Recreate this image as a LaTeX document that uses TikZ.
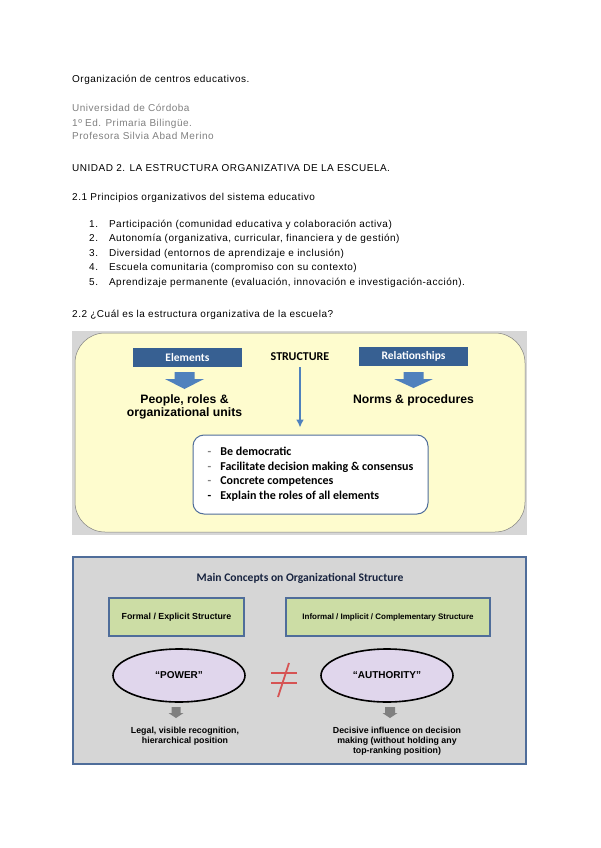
\documentclass[tikz,border=0pt]{standalone}
\usepackage{fontspec}
\setmainfont{Liberation Sans}
\newfontfamily\BodyFont[LetterSpace=5.0]{Liberation Sans}
\newfontfamily\CalibriFont{Carlito}
\usetikzlibrary{shapes.geometric}
\usetikzlibrary{arrows.meta}
\usetikzlibrary{positioning}
\definecolor{TextGray}{RGB}{128,128,128}
\definecolor{FrameGray}{RGB}{214,214,214}
\definecolor{PaleYellow}{RGB}{254,252,206}
\definecolor{ElementsBlue}{RGB}{55,96,146}
\definecolor{ArrowBlue}{RGB}{79,129,189}
\definecolor{BoxBorder}{RGB}{79,109,154}
\definecolor{PaleGreen}{RGB}{204,221,165}
\definecolor{Lavender}{RGB}{224,214,236}
\definecolor{ArrowGray}{RGB}{128,128,128}
\definecolor{NeqRed}{RGB}{214,84,84}
\definecolor{TitleNavy}{RGB}{24,36,64}
\newcommand{\DownBlockArrow}[7]{
	\fill[#7] (#1-#3,#2) -- (#1+#3,#2) -- (#1+#3,#2+#5) -- (#1+#4,#2+#5) -- (#1,#2+#5+#6) -- (#1-#4,#2+#5) -- (#1-#3,#2+#5) -- cycle;
}

\begin{document}
\begin{tikzpicture}[x=1pt, y=-1pt, >=Latex,
	bodytext/.style={anchor=base west, inner sep=0pt, font=\BodyFont\fontsize{10}{14.6}\selectfont},
	darkbox/.style={rectangle, fill=ElementsBlue, text=white, inner sep=0pt, minimum width=109pt, minimum height=19pt, font=\CalibriFont\bfseries\fontsize{11.5}{13}\selectfont},
	bigtext/.style={anchor=base, inner sep=0pt, font=\bfseries\fontsize{12.2}{13.6}\selectfont},
	rulesbox/.style={rectangle, rounded corners=11pt, draw=BoxBorder, line width=1pt, fill=white, minimum width=235pt, minimum height=79pt, inner sep=0pt, font=\CalibriFont\bfseries\fontsize{12}{14.7}\selectfont},
	structarrow/.style={color=ArrowBlue, line width=1.6pt, shorten <=4pt, shorten >=7pt, arrows={-Latex[length=8pt,width=8pt]}},
	greenbox/.style={rectangle, draw=BoxBorder, line width=1.3pt, fill=PaleGreen, minimum height=38pt, inner sep=0pt},
	conceptoval/.style={ellipse, draw=black, line width=1.6pt, fill=Lavender, minimum width=132pt, minimum height=53pt, inner sep=0pt, font=\bfseries\fontsize{10}{12}\selectfont},
	smalltext/.style={anchor=base, inner sep=0pt, font=\bfseries\fontsize{8.8}{10.3}\selectfont}]
	\fill[white] (0,0) rectangle (600,848);
	\useasboundingbox (0,0) rectangle (600,848);

	% heading lines
	\node[bodytext] (course) at (72,83) {Organización de centros educativos.};
	\node[bodytext, text=TextGray] (uni) at (72,112) {\begin{tabular}[t]{@{}l@{}}Universidad de Córdoba\\[-0.6pt] 1º Ed. Primaria Bilingüe.\\[-0.6pt] Profesora Silvia Abad Merino\end{tabular}};
	\node[bodytext] (unit) at (72,171) {UNIDAD 2. LA ESTRUCTURA ORGANIZATIVA DE LA ESCUELA.};
	\node[bodytext] (sec1) at (72,200) {2.1 Principios organizativos del sistema educativo};
	\node[bodytext] (principles) at (89,227) {\begin{tabular}[t]{@{}l@{\hspace{11pt}}l@{}}
		1. & Participación (comunidad educativa y colaboración activa)\\
		2. & Autonomía (organizativa, curricular, financiera y de gestión)\\
		3. & Diversidad (entornos de aprendizaje e inclusión)\\
		4. & Escuela comunitaria (compromiso con su contexto)\\
		5. & Aprendizaje permanente (evaluación, innovación e investigación-acción).
	\end{tabular}};
	\node[bodytext] (sec2) at (72,317) {2.2 ¿Cuál es la estructura organizativa de la escuela?};

	% structure diagram
	\fill[FrameGray] (72,331) rectangle (527,535);
	\draw[fill=PaleYellow, draw=gray, line width=0.5pt, rounded corners=30pt] (75,333) rectangle (525,532);
	\node[darkbox] (elements) at (187.5,357.5) {Elements};
	\node[darkbox] (relations) at (413.5,356.5) {Relationships};
	\node[inner sep=2pt, font=\CalibriFont\bfseries\fontsize{12}{14}\selectfont] (structure) at (300,357) {STRUCTURE};
	\DownBlockArrow{184.5}{372}{10}{19.5}{7}{10}{ArrowBlue}
	\DownBlockArrow{413.5}{372}{10}{19.5}{7}{9}{ArrowBlue}
	\node[bigtext] (people) at (184.5,403) {\begin{tabular}[t]{@{}c@{}}People, roles \&\\ organizational units\end{tabular}};
	\node[bigtext] (norms) at (413.5,403) {Norms \& procedures};
	\node[rulesbox] (rules) at (310.5,474.5) {\begin{tabular}{@{}l@{\hspace{9pt}}l@{}}
		\textcolor{gray}{-} & Be democratic\\
		\textcolor{gray}{-} & Facilitate decision making \& consensus\\
		\textcolor{gray}{-} & Concrete competences\\
		- & Explain the roles of all elements
	\end{tabular}};
	\draw[structarrow] (structure) -- (structure |- rules.north);

	% concepts diagram
	\draw[fill=FrameGray, draw=BoxBorder, line width=1.2pt] (73,557) rectangle (526,764);
	\node[inner sep=0pt, text=TitleNavy, font=\CalibriFont\bfseries\fontsize{11.6}{13}\selectfont] (title) at (300,578) {Main Concepts on Organizational Structure};
	\node[greenbox, minimum width=135pt, font=\bfseries\fontsize{8.8}{10}\selectfont] (formal) at (176.5,617) {Formal / Explicit Structure};
	\node[greenbox, minimum width=204pt, font=\bfseries\fontsize{8}{10}\selectfont] (informal) at (388,617) {Informal / Implicit / Complementary Structure};
	\node[conceptoval] (power) at (179,675.5) {``POWER''};
	\node[conceptoval] (authority) at (387,675.5) {``AUTHORITY''};
	% not equal sign
	\draw[NeqRed, line width=1.8pt] (271,673) -- (297,673);
	\draw[NeqRed, line width=1.8pt] (271,683) -- (297,683);
	\draw[NeqRed, line width=1.8pt] (289,663) -- (278,697);
	\DownBlockArrow{176}{707}{4.5}{7.5}{6}{5}{ArrowGray}
	\DownBlockArrow{390}{707}{5}{7.5}{6}{5}{ArrowGray}
	\node[smalltext] (legal) at (185,733) {\begin{tabular}[t]{@{}c@{}}Legal, visible recognition,\\ hierarchical position\end{tabular}};
	\node[smalltext] (decisive) at (397,733) {\begin{tabular}[t]{@{}c@{}}Decisive influence on decision\\ making (without holding any\\ top-ranking position)\end{tabular}};
\end{tikzpicture}
\end{document}
